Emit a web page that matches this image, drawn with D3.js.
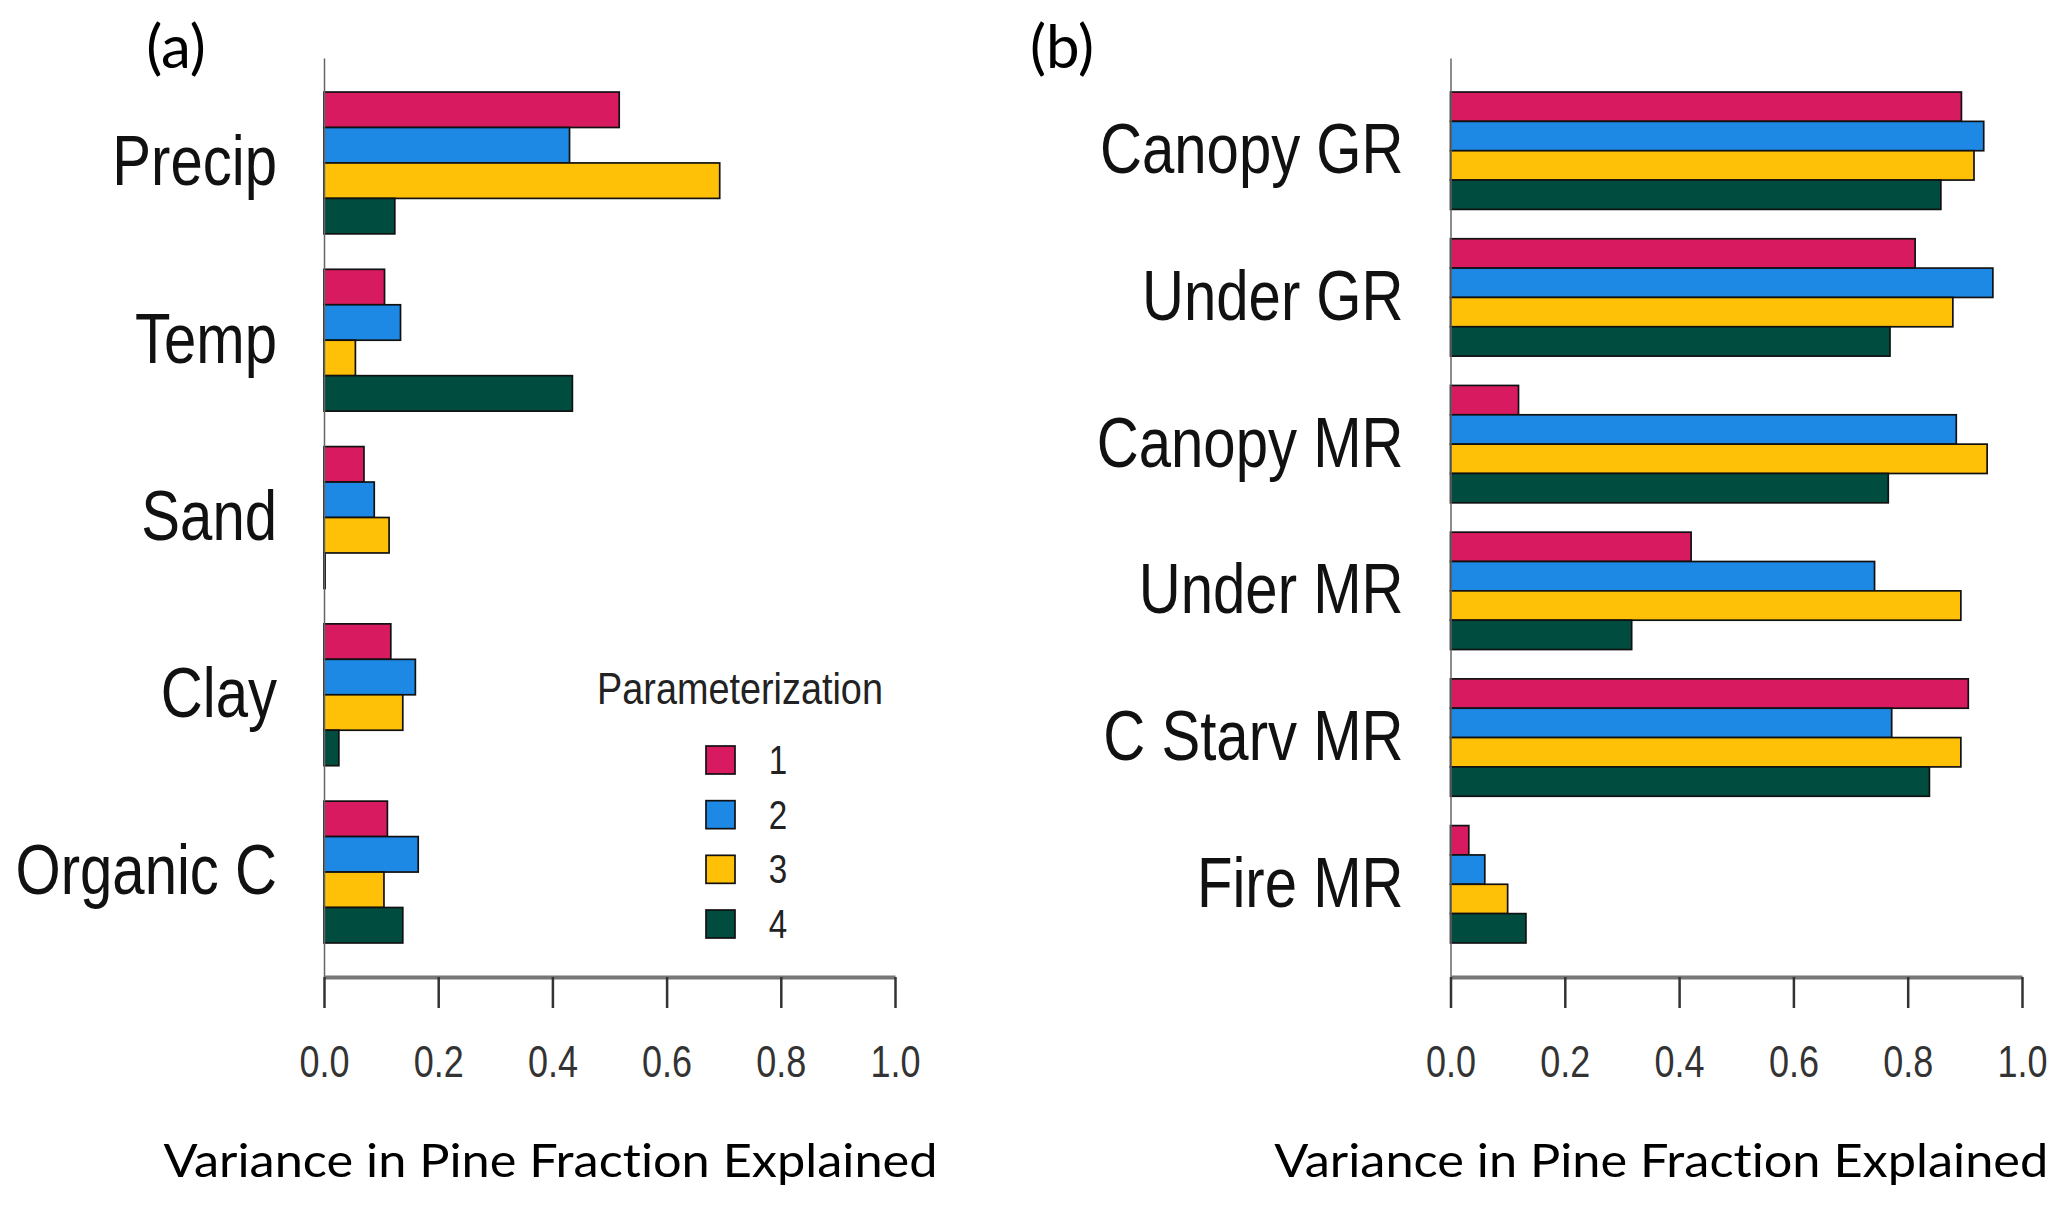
<!DOCTYPE html>
<html>
<head>
<meta charset="utf-8">
<script src="https://cdn.jsdelivr.net/npm/d3@7"></script>
<style>
  body { margin: 0; background: #fff; }
  text { font-variant-ligatures: none; }
</style>
</head>
<body>
<svg id="chart"></svg>
<script>
// series / legend
const seriesNames = ["1", "2", "3", "4"];
const colors = ["#D81B60", "#1E88E5", "#FFC107", "#004D40"];
const tickValues = [0, 0.2, 0.4, 0.6, 0.8, 1.0];

// panel (a)
const catsA = ["Precip", "Temp", "Sand", "Clay", "Organic C"];
const a1 = [0.517, 0.106, 0.070, 0.117, 0.111];
const a2 = [0.430, 0.134, 0.088, 0.160, 0.165];
const a3 = [0.693, 0.055, 0.114, 0.138, 0.105];
const a4 = [0.124, 0.435, 0.002, 0.026, 0.138];

// panel (b)
const catsB = ["Canopy GR", "Under GR", "Canopy MR", "Under MR", "C Starv MR", "Fire MR"];
const b1 = [0.894, 0.813, 0.119, 0.421, 0.906, 0.032];
const b2 = [0.933, 0.949, 0.885, 0.742, 0.772, 0.060];
const b3 = [0.916, 0.879, 0.939, 0.893, 0.893, 0.100];
const b4 = [0.858, 0.769, 0.766, 0.317, 0.838, 0.132];

const width = 2067;
const height = 1210;
const plotTop = 58;
const plotBottom = 977;
const sans = "'Liberation Sans', Arial, sans-serif";
const titleFont = "Lato, 'Open Sans', sans-serif";
const squeeze = 0.83; // the R output is horizontally condensed

const svg = d3.select("#chart")
    .attr("width", width)
    .attr("height", height)
    .attr("viewBox", [0, 0, width, height]);

// condensed text: x is divided so the scale keeps the anchor where it belongs
function narrowText(sel, x, k = squeeze) {
    return sel.attr("x", x / k).attr("transform", `scale(${k},1)`);
}

function panel(cats, series, xLeft, xRight, tag, tagX) {
    const n = cats.length;
    // R barplot: 4 bars + 1 bar gap per group, plus 4% extension
    const yScale = d3.scaleBand(cats, [plotTop, plotBottom])
        .paddingInner(0.2)
        .paddingOuter(0.04 * (n * 5 - 1) / 5);
    const yInner = d3.scaleBand(seriesNames, [0, yScale.bandwidth()]);
    const xScale = d3.scaleLinear([0, 1], [xLeft, xRight]);

    const rows = cats.map((c, i) => ({ cat: c, vals: series.map(s => s[i]) }));

    const g = svg.append("g");

    // bars
    g.append("g")
        .selectAll("g")
        .data(rows)
        .join("g")
        .attr("transform", d => `translate(0,${yScale(d.cat)})`)
        .selectAll("rect")
        .data(d => d.vals)
        .join("rect")
        .attr("x", xScale(0))
        .attr("y", (d, i) => yInner(seriesNames[i]))
        .attr("width", d => xScale(d) - xScale(0))
        .attr("height", yInner.bandwidth())
        .attr("fill", (d, i) => colors[i])
        .attr("stroke", "#111")
        .attr("stroke-width", 1.7);

    // category axis
    g.append("g")
        .attr("transform", `translate(${xScale(0)},0)`)
        .call(d3.axisLeft(yScale).tickSize(0).tickPadding(47))
        .call(a => a.select(".domain").attr("stroke", "#666").attr("stroke-width", 1.5))
        .call(a => a.selectAll("text")
            .call(narrowText, -47)
            .attr("font-family", sans)
            .attr("font-size", 70)
            .attr("fill", "#111"));

    // value axis
    g.append("g")
        .attr("transform", `translate(0,${plotBottom})`)
        .call(d3.axisBottom(xScale).tickValues(tickValues).tickFormat(d3.format(".1f"))
            .tickSize(31).tickSizeOuter(0).tickPadding(37))
        .call(a => a.select(".domain").attr("stroke", "#777").attr("stroke-width", 4))
        .call(a => a.selectAll(".tick line").attr("stroke", "#333").attr("stroke-width", 2.5))
        .call(a => a.selectAll("text")
            .call(narrowText, 0, 0.8)
            .attr("font-family", sans)
            .attr("font-size", 45)
            .attr("fill", "#333"));

    // axis title
    svg.append("text")
        .attr("x", (xLeft + xRight) / 2 + (tag === "(a)" ? -59 : -75))
        .attr("y", 1177)
        .attr("text-anchor", "middle")
        .attr("font-family", titleFont)
        .attr("font-size", 46)
        .attr("textLength", 774)
        .attr("lengthAdjust", "spacingAndGlyphs")
        .attr("fill", "#000")
        .text("Variance in Pine Fraction Explained");

    // panel tag
    svg.append("text")
        .attr("x", tagX)
        .attr("y", 68)
        .attr("text-anchor", "middle")
        .attr("font-family", titleFont)
        .attr("font-size", 60)
        .attr("fill", "#000")
        .text(tag);

    return xScale;
}

panel(catsA, [a1, a2, a3, a4], 324, 895, "(a)", 176);
panel(catsB, [b1, b2, b3, b4], 1450.5, 2022, "(b)", 1062);

// legend in panel (a)
const legend = svg.append("g");
legend.append("text")
    .call(narrowText, 740, 0.86)
    .attr("y", 704)
    .attr("text-anchor", "middle")
    .attr("font-family", sans)
    .attr("font-size", 44)
    .attr("fill", "#222")
    .text("Parameterization");

const legendY = d3.scalePoint(seriesNames, [760, 924]);
const items = legend.selectAll("g.item")
    .data(seriesNames)
    .join("g")
    .attr("class", "item")
    .attr("transform", d => `translate(0,${legendY(d)})`);
items.append("rect")
    .attr("x", 706)
    .attr("y", -14)
    .attr("width", 29)
    .attr("height", 28)
    .attr("fill", (d, i) => colors[i])
    .attr("stroke", "#111")
    .attr("stroke-width", 1.7);
items.append("text")
    .call(narrowText, 778)
    .attr("y", 14)
    .attr("text-anchor", "middle")
    .attr("font-family", sans)
    .attr("font-size", 40)
    .attr("fill", "#222")
    .text(d => d);
</script>
</body>
</html>
